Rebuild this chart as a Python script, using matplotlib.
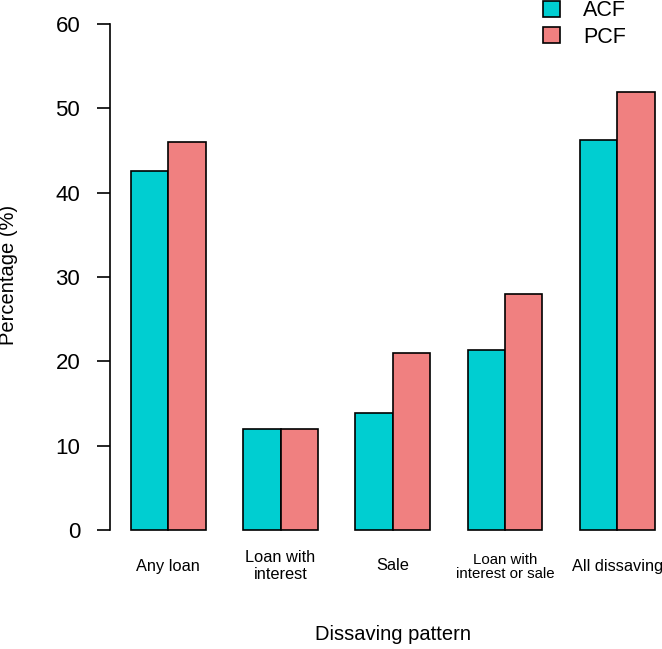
import numpy as np
import matplotlib.pyplot as plt
from matplotlib.transforms import blended_transform_factory

plt.rcParams['font.family'] = ['Liberation Sans', 'DejaVu Sans']

# Datos
categorias = ['Any loan', 'Loan with\ninterest', 'Sale',
              'Loan with\ninterest or sale', 'All dissaving']
acf = [42.6, 12.0, 13.9, 21.3, 46.3]
pcf = [46.0, 12.0, 21.0, 28.0, 52.0]
series = ['ACF', 'PCF']
colores = ['#00CED1', '#F08080']

W, H = 662, 649
fig = plt.figure(figsize=(W / 100, H / 100), dpi=100)

# Ejes: y=0 en px 530, y=60 en px 24; eje y en px 110
ax = fig.add_axes([110 / W, (H - 550) / H, (W - 110) / W, 546 / H])
ax.set_ylim(-2.4, 62.4)
unidad = 37.4
ax.set_xlim(0.44, 0.44 + (W - 110) / unidad)

# posiciones estilo barplot de R (space = c(0, 1))
grupos = np.arange(len(categorias)) * 3 + 1
ax.bar(grupos + 0.5, acf, width=1.0, color=colores[0], edgecolor='black',
       linewidth=1.2, label=series[0])
ax.bar(grupos + 1.5, pcf, width=1.0, color=colores[1], edgecolor='black',
       linewidth=1.2, label=series[1])

for s in ['top', 'right', 'bottom']:
    ax.spines[s].set_visible(False)
ax.spines['left'].set_bounds(0, 60)
ax.spines['left'].set_linewidth(1.2)
ax.set_yticks(np.arange(0, 61, 10))
ax.tick_params(axis='y', length=9.5, width=1.2, pad=12, labelsize=16)
ax.set_xticks([])

# etiquetas de categorías
trans = blended_transform_factory(ax.transData, fig.transFigure)
for i, cat in enumerate(categorias):
    if i == 3:
        tam, esp, yc = 10.8, 1.0, 567
    else:
        tam, esp, yc = 11.8, 1.12, 566
    ax.text(grupos[i] + 1, 1 - yc / H, cat, transform=trans, ha='center',
            va='center', fontsize=tam, linespacing=esp)

fig.text(9 / W, 1 - 275 / H, 'Percentage (%)', rotation=90, ha='center',
         va='center', fontsize=14.5)
fig.text(393 / W, 1 - 635 / H, 'Dissaving pattern', ha='center',
         va='center', fontsize=14.5)

ax.legend(loc='upper left', bbox_to_anchor=(524 / W, 1 + 19 / H),
          bbox_transform=fig.transFigure, frameon=False, fontsize=15.5,
          handlelength=0.75, handleheight=0.75, handletextpad=1.1,
          labelspacing=0.25)

fig.savefig('out.png', dpi=100)
